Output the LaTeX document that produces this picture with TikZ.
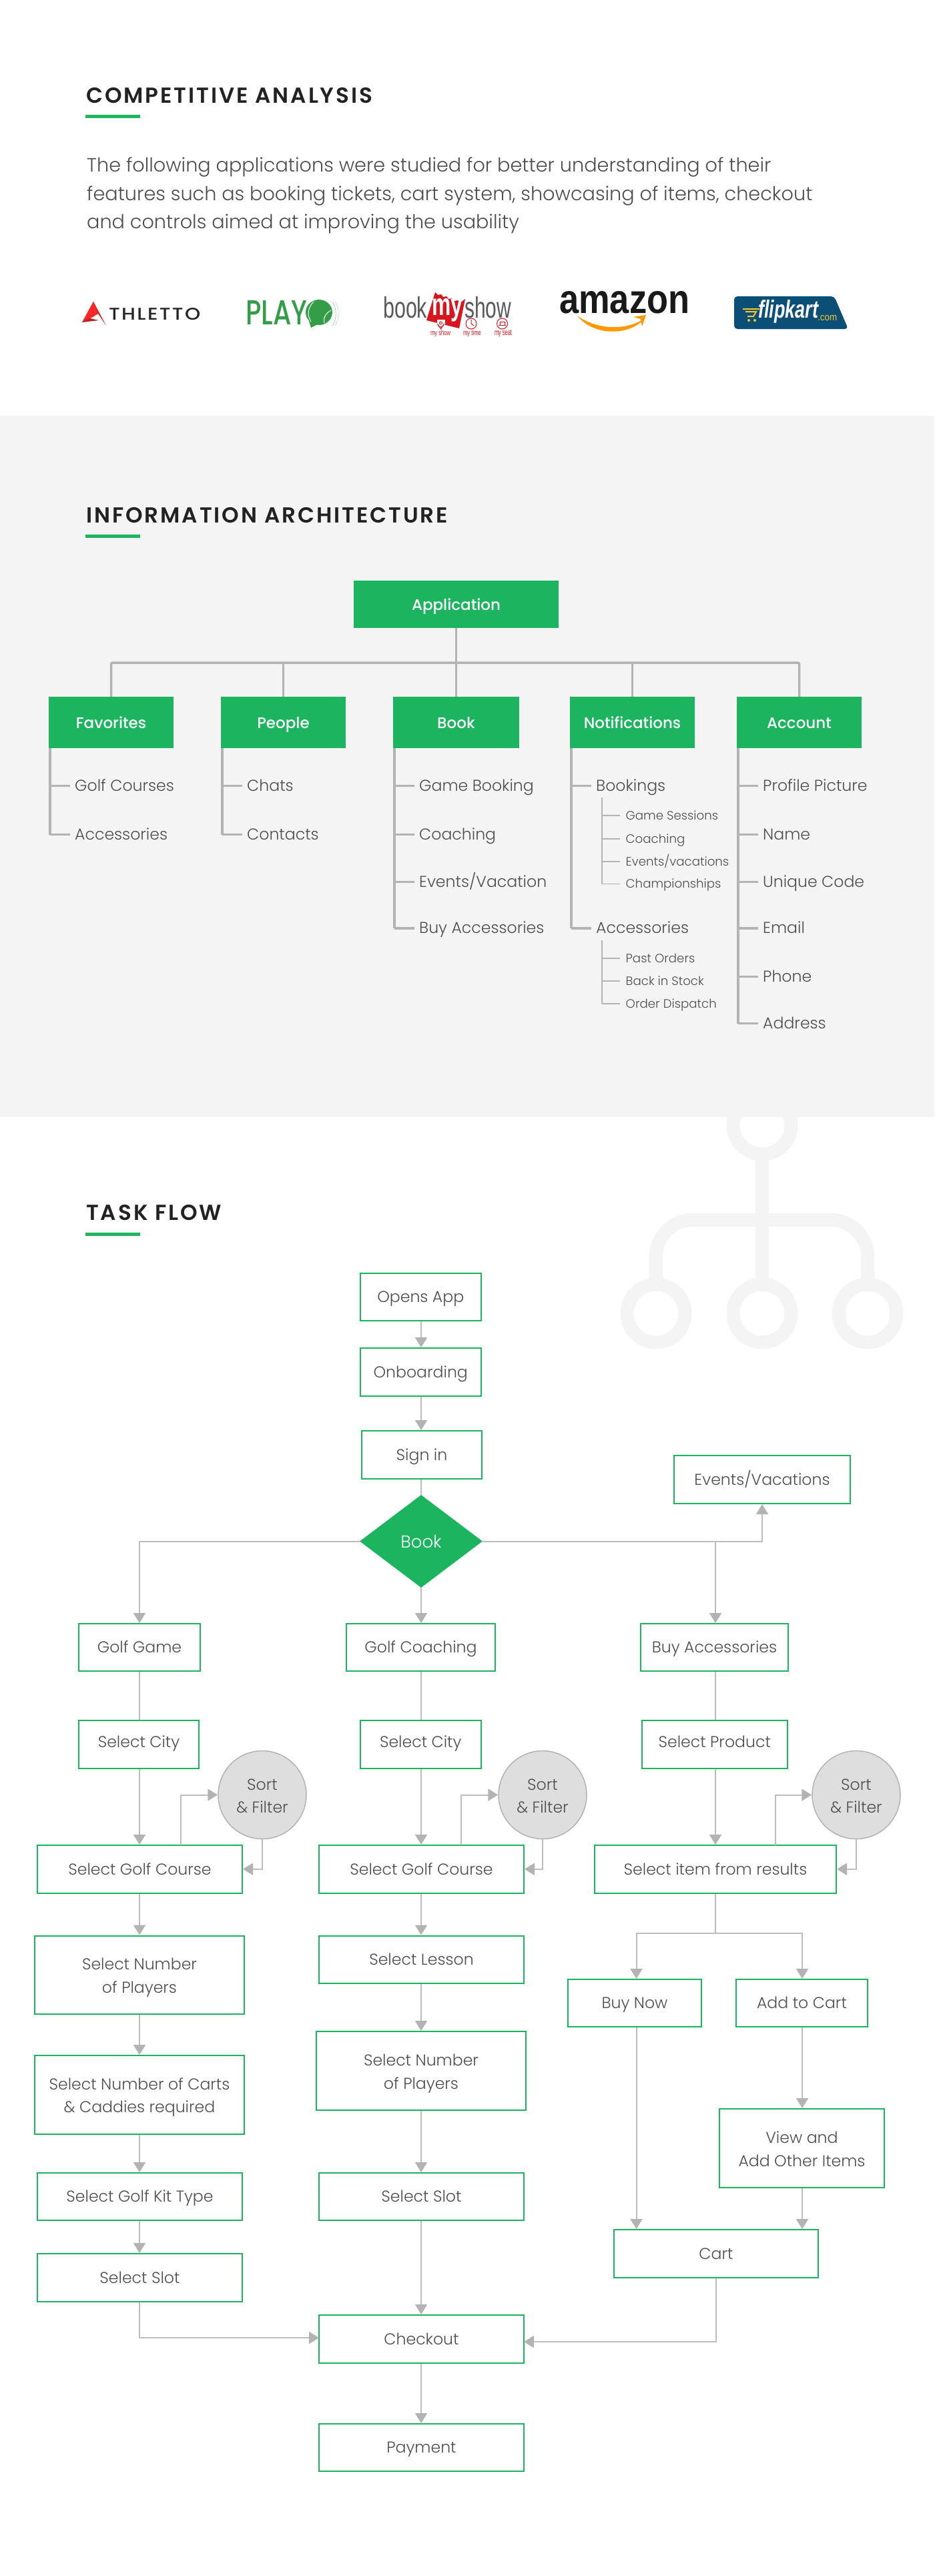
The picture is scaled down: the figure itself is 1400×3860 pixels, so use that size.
\documentclass[tikz,border=0pt]{standalone}
\usepackage{fontspec}
\usepackage{graphicx}
\usetikzlibrary{arrows.meta,shapes.geometric}
\setmainfont{Poppins Light}
\newfontfamily\medf{Poppins Medium}
\newfontfamily\semi{Poppins SemiBold}[LetterSpace=9]
\newfontfamily\libb{Liberation Sans}
\definecolor{gr}{HTML}{1DB45F}
\definecolor{txt}{HTML}{4D4D4D}
\definecolor{ink}{HTML}{222222}
\definecolor{ln}{HTML}{BDBDBD}
\definecolor{tip}{HTML}{B3B3B3}
\definecolor{ia}{HTML}{B3B3B3}
\definecolor{pale}{HTML}{F4F4F4}
\definecolor{bmsred}{HTML}{D9161E}
\definecolor{playg}{HTML}{339E47}
\definecolor{fkblue}{HTML}{0B4F77}
\definecolor{fky}{HTML}{F7C52B}
\definecolor{amz}{HTML}{FF9900}
\newcommand{\flowtop}{\rule[-8.9pt]{0pt}{34.4pt}}
\newcommand{\lift}{\rule{0pt}{28.5pt}}
\newcommand{\upr}[1]{\raisebox{3.5pt}{#1}}
\tikzset{
  heading/.style={anchor=base west,inner sep=0,text=ink,font=\semi\fontsize{32.6}{36}\selectfont},
  para/.style={anchor=base west,inner sep=0,text=txt,font=\fontsize{28.7}{34}\selectfont},
  flow/.style={draw=gr,line width=2pt,fill=white,inner sep=0,align=center,text=txt,font=\fontsize{23.6}{34.4}\selectfont,execute at begin node=\flowtop,execute at end node=\flowtop},
  iabox/.style={fill=gr,inner sep=0,text=white,font=\medf\fontsize{23}{34}\selectfont,execute at begin node=\rule[-10.2pt]{0pt}{38.2pt}},
  item/.style={anchor=base west,inner sep=0,text=txt,font=\fontsize{23.6}{27}\selectfont},
  subitem/.style={anchor=base west,inner sep=0,text=txt,font=\fontsize{18.2}{22}\selectfont},
  iatrunk/.style={draw=ia,line width=3.5pt},
  iathin/.style={draw=ia,line width=1.5pt},
  plainline/.style={draw=ln,line width=2pt},
  arrowline/.style={draw=ln,line width=2pt,-{Triangle[width=18pt,length=15pt,color=tip]}},
  sortnode/.style={circle,draw=tip,line width=1.5pt,fill=black!13,inner sep=0,minimum size=132pt,align=center,text=txt,font=\fontsize{23.6}{34.4}\selectfont,execute at begin node=\flowtop,execute at end node=\flowtop},
  decision/.style={diamond,fill=gr,inner sep=0,text=white,font=\fontsize{26}{34}\selectfont,execute at begin node=\rule[-10.2pt]{0pt}{40pt}},
  bar/.style={fill=gr},
  ghost/.style={draw=pale,line width=20pt},
  logotext/.style={inner sep=0,anchor=south west},
  tiny/.style={inner sep=0,text=bmsred}
}
\newcommand{\flowbox}[6]{\node[flow,minimum width={#4-#2},minimum height={#5-#3}] (#1) at ({(#2+#4)/2},{(#3+#5)/2}) {#6};}
\newcommand{\iablock}[6]{\node[iabox,minimum width={#4-#2},minimum height={#5-#3}] (#1) at ({(#2+#4)/2},{(#3+#5)/2}) {#6};}
\newcommand{\fit}[3]{\resizebox{#1pt}{#2pt}{#3}}
\begin{document}
\begin{tikzpicture}[x=1pt,y=-1pt]
\useasboundingbox (0,0) rectangle (1400,3860);
\fill[white] (0,0) rectangle (1400,3860);
% ghost icon behind the task flow
\draw[ghost] (1142,1686) circle (43.5);
\draw[ghost] (983,1968) circle (43.5);
\draw[ghost] (1142,1968) circle (43.5);
\draw[ghost] (1300,1968) circle (43.5);
\draw[ghost] (1142,1739) -- (1142,1915);
\draw[ghost,rounded corners=55pt] (983,1915) -- (983,1828) -- (1300,1828) -- (1300,1915);
% grey band
\fill[pale] (0,622.5) rectangle (1400,1674);

% ---------- competitive analysis
\node[heading] (h1) at (129,154) {COMPETITIVE ANALYSIS};
\fill[bar] (128,172) rectangle (210,177);
\node[para] (p1) at (130,257.5) {The following applications were studied for better understanding of their};
\node[para] (p2) at (130,300) {features such as booking tickets, cart system, showcasing of items, checkout};
\node[para] (p3) at (130,342.5) {and controls aimed at improving the usability};

% Athletto
\fill[red!70!black!85!white] (123,483) -- (140,452) -- (159,488) -- (147,470) -- (135,477) -- (148,480) -- cycle;
\fill[red!85!white] (140,452) -- (147,470) -- (135,477) -- (125,480) -- cycle;
\node[logotext,text=black!85] (l1) at (163,480) {\fit{137}{18}{\medf\addfontfeature{LetterSpace=8}THLETTO}};
% Playo
\node[logotext,text=playg] (l2) at (368,487) {\fit{92}{36}{\medf PLAY}};
\fill[playg] (478,468) ellipse (20 and 19);
\fill[playg] (462,478) -- (490,478) -- (474,487) -- (466,491) -- cycle;
\draw[white,line width=1pt] (470,452) .. controls (458,465) and (462,475) .. (466,482);
\draw[white,line width=1pt] (496,465) .. controls (486,470) and (484,480) .. (486,484);
\draw[playg!50!white,line width=.7pt] (498,452) .. controls (505,462) and (505,478) .. (498,488);
\draw[playg!30!white,line width=.7pt] (502,452) .. controls (509,462) and (509,478) .. (502,488);
% BookMyShow
\fill[bmsred] (652,438) -- (656,442) -- (661,441) -- (664,445) -- (669,444) -- (672,448) -- (677,447) -- (681,451) -- (686,450) -- (689,454) -- (697,448) -- (688,492) -- (639,480) -- cycle;
\node[logotext,text=white] (l3b) at (647,482) {\fit{46}{25}{\libb\bfseries my}};
\node[logotext,text=black!65] (l3a) at (574,477) {\fit{66}{32}{\libb book}};
\node[logotext,text=black!65] (l3c) at (696,477) {\fit{70}{32}{\libb show}};
\fill[white] (655,479) rectangle (667,490);
\draw[bmsred,line width=1pt,fill=white] (660.5,493) -- (655.5,485) arc (180:0:5) -- cycle;
\draw[bmsred,line width=1pt] (660.5,484) circle (2);
\draw[bmsred,line width=1pt,fill=white] (706,485) circle (8);
\draw[bmsred,line width=1pt] (706,479) -- (706,485) -- (710,488);
\draw[bmsred,line width=1pt,fill=white] (752.5,485) circle (8);
\draw[bmsred,line width=1pt] (747,487) -- (758,487) (749,487) -- (749,482) -- (756,482) -- (756,487);
\node[tiny] (l3d) at (660,499.5) {\fit{30}{8}{\libb my show}};
\node[tiny] (l3e) at (707.5,499.5) {\fit{27}{8}{\libb my time}};
\node[tiny] (l3f) at (754,499.5) {\fit{26}{8}{\libb my seat}};
% Amazon
\node[logotext,text=black!90] (l4) at (838,470) {\fit{195}{33}{\libb\bfseries amazon}};
\fill[amz] (865,473) .. controls (890,492) and (935,498) .. (966,477) .. controls (945,503) and (890,505) .. (865,473) -- cycle;
\fill[amz] (949,475) -- (968,472) -- (962,489) -- (960,478) -- cycle;
% Flipkart
\fill[fkblue,rounded corners=5pt] (1100,444) -- (1250,444) -- (1271,493) -- (1100,493) -- cycle;
\node[logotext,text=white] (l5) at (1136,484) {\fit{90}{27}{\libb\bfseries\itshape flipkart}};
\node[logotext,text=fky] (l5b) at (1225,481) {\fit{29}{8}{\libb .com}};
\draw[fky,line width=2pt] (1113,463) -- (1138,463) (1117,467) -- (1133,467) -- (1129,474) -- (1120,474);
\fill[fky] (1122,480) circle (2) (1131,480) circle (2);

% ---------- information architecture
\node[heading] (h2) at (129,783) {INFORMATION ARCHITECTURE};
\fill[bar] (128,800.5) rectangle (210,805.5);
\iablock{app}{530}{870}{837}{941}{Application}
\iablock{fav}{73}{1044}{260}{1121}{Favorites}
\iablock{peo}{331}{1044}{518}{1121}{People}
\iablock{boo}{589}{1044}{778}{1121}{Book}
\iablock{not}{854}{1044}{1041}{1121}{Notifications}
\iablock{acc}{1104}{1044}{1291}{1121}{Account}
\coordinate (trunk) at (683.5,993);
\draw[iatrunk] (app.south) -- (trunk);
\draw[iatrunk,rounded corners=2pt] (fav.north) -- (fav.north |- trunk) -- (acc.north |- trunk) -- (acc.north);
\draw[iatrunk] (peo.north) -- (peo.north |- trunk);
\draw[iatrunk] (boo.north) -- (boo.north |- trunk);
\draw[iatrunk] (not.north) -- (not.north |- trunk);
% lists
\newcommand{\listrow}[4]{\node[item] (#2) at ({#1+37},{#3+7.5}) {#4};\draw[iatrunk] ({#1},#3) -- ({#1+30},#3);}
\newcommand{\subrow}[4]{\node[subitem] (#2) at ({#1+35.5},{#3+6}) {#4};\draw[iathin] ({#1},#3) -- ({#1+27},#3);}
\draw[iatrunk] (75,1121) -- (75,1250.5);
\listrow{75}{a1}{1177.5}{Golf Courses}
\listrow{75}{a2}{1250.5}{Accessories}
\draw[iatrunk] (333,1121) -- (333,1250.5);
\listrow{333}{b1}{1177.5}{Chats}
\listrow{333}{b2}{1250.5}{Contacts}
\draw[iatrunk] (591,1121) -- (591,1391);
\listrow{591}{c1}{1177.5}{Game Booking}
\listrow{591}{c2}{1250.5}{Coaching}
\listrow{591}{c3}{1321.5}{Events/Vacation}
\listrow{591}{c4}{1391}{Buy Accessories}
\draw[iatrunk] (856,1121) -- (856,1391);
\listrow{856}{d1}{1177.5}{Bookings}
\listrow{856}{d2}{1391}{Accessories}
\draw[iathin] (902,1195) -- (902,1324.5);
\subrow{902}{e1}{1222}{Game Sessions}
\subrow{902}{e2}{1257}{Coaching}
\subrow{902}{e3}{1291}{Events/vacations}
\subrow{902}{e4}{1324.5}{Championships}
\draw[iathin] (902,1409) -- (902,1504);
\subrow{902}{f1}{1436}{Past Orders}
\subrow{902}{f2}{1470}{Back in Stock}
\subrow{902}{f3}{1504}{Order Dispatch}
\draw[iatrunk] (1106,1121) -- (1106,1533.5);
\listrow{1106}{g1}{1177.5}{Profile Picture}
\listrow{1106}{g2}{1250.5}{Name}
\listrow{1106}{g3}{1321.5}{Unique Code}
\listrow{1106}{g4}{1391}{Email}
\listrow{1106}{g5}{1463.5}{Phone}
\listrow{1106}{g6}{1533.5}{Address}

% ---------- task flow
\node[heading] (h3) at (129,1828) {TASK FLOW};
\fill[bar] (128,1846.5) rectangle (210,1851.5);

\flowbox{open}{540}{1908}{720.5}{1979}{Opens App}
\flowbox{onb}{540}{2020}{720.5}{2091.5}{Onboarding}
\flowbox{sign}{542}{2144}{722}{2216}{Sign in}
\flowbox{ev}{1010}{2181}{1274}{2253}{Events/Vacations}
\node[decision,minimum width=184pt,minimum height=139pt] (bk) at (631,2309.5) {Book};

\flowbox{gg}{118}{2433}{300}{2504}{Golf Game}
\flowbox{gc}{519}{2433}{742}{2504}{Golf Coaching}
\flowbox{ba}{960}{2433}{1181}{2504}{Buy Accessories}
\flowbox{c1}{118}{2578}{298}{2650}{\upr{Select City}}
\flowbox{c2}{540}{2578}{720.5}{2650}{\upr{Select City}}
\flowbox{sp}{962}{2578}{1179.5}{2650}{\upr{Select Product}}
\node[sortnode] (sf1) at (393,2689.5) {\lift Sort\\\& Filter};
\node[sortnode] (sf2) at (813,2689.5) {\lift Sort\\\& Filter};
\node[sortnode] (sf3) at (1283,2689.5) {\lift Sort\\\& Filter};
\flowbox{s1}{56}{2765}{363}{2836.5}{Select Golf Course}
\flowbox{s2}{478}{2765}{785}{2836.5}{Select Golf Course}
\flowbox{s3}{891}{2765}{1253}{2836.5}{Select item from results}
\flowbox{n1}{52}{2900.5}{366}{3018}{\lift Select Number\\of Players}
\flowbox{ls}{478}{2900.5}{785}{2971.5}{Select Lesson}
\flowbox{n2}{474}{3044}{788}{3162}{\lift Select Number\\of Players}
\flowbox{bn}{851}{2966}{1051}{3037}{Buy Now}
\flowbox{ac}{1103}{2966}{1300}{3037}{Add to Cart}
\flowbox{nc}{52}{3080}{366}{3197.5}{\lift Select Number of Carts\\\& Caddies required}
\flowbox{kt}{56}{3256}{363}{3327}{Select Golf Kit Type}
\flowbox{t2}{478}{3256}{785}{3327}{Select Slot}
\flowbox{t1}{56}{3377}{363}{3448.5}{Select Slot}
\flowbox{va}{1078}{3160}{1325}{3278}{\lift View and\\Add Other Items}
\flowbox{cart}{920}{3341}{1226}{3413}{Cart}
\flowbox{co}{478}{3469}{785}{3541}{Checkout}
\flowbox{pay}{478}{3632}{785}{3703}{Payment}

% helper coordinates on the column lines
\coordinate (colA) at (209,0);
\coordinate (colB) at (631,0);
\coordinate (colC) at (1072,0);
\coordinate (colD) at (953.5,0);
\coordinate (colE) at (1202,0);
\coordinate (split) at (1072,2897);
\coordinate (cw) at (478,3503);
\coordinate (ce) at (785,3509);
\coordinate (up1) at (271,2765);
\coordinate (up2) at (691,2765);
\coordinate (up3) at (1162,2765);

\draw[arrowline] (colB |- open.south) -- (colB |- onb.north);
\draw[arrowline] (colB |- onb.south) -- (colB |- sign.north);
\draw[plainline] (colB |- sign.south) -- (bk.north);
\draw[arrowline] (bk.west) -| (colA |- gg.north);
\draw[arrowline] (bk.south) -- (colB |- gc.north);
\draw[arrowline] (bk.east) -| (ev.south);
\draw[arrowline] (colC |- bk.east) -- (colC |- ba.north);

\draw[plainline] (colA |- gg.south) -- (colA |- c1.north);
\draw[plainline] (colB |- gc.south) -- (colB |- c2.north);
\draw[plainline] (colC |- ba.south) -- (colC |- sp.north);
\draw[arrowline] (colA |- c1.south) -- (colA |- s1.north);
\draw[arrowline] (colB |- c2.south) -- (colB |- s2.north);
\draw[arrowline] (colC |- sp.south) -- (colC |- s3.north);

\draw[arrowline] (up1) |- (sf1.west);
\draw[arrowline] (up2) |- (sf2.west);
\draw[arrowline] (up3) |- (sf3.west);
\draw[arrowline] (sf1.south) |- (s1.east);
\draw[arrowline] (sf2.south) |- (s2.east);
\draw[arrowline] (sf3.south) |- (s3.east);

\draw[arrowline] (colA |- s1.south) -- (colA |- n1.north);
\draw[arrowline] (colA |- n1.south) -- (colA |- nc.north);
\draw[arrowline] (colA |- nc.south) -- (colA |- kt.north);
\draw[arrowline] (colA |- kt.south) -- (colA |- t1.north);
\draw[arrowline] (colA |- t1.south) |- (cw);

\draw[arrowline] (colB |- s2.south) -- (colB |- ls.north);
\draw[arrowline] (colB |- ls.south) -- (colB |- n2.north);
\draw[arrowline] (colB |- n2.south) -- (colB |- t2.north);
\draw[arrowline] (colB |- t2.south) -- (colB |- co.north);
\draw[arrowline] (colB |- co.south) -- (colB |- pay.north);

\draw[plainline] (colC |- s3.south) -- (split);
\draw[arrowline] (split) -| (colD |- bn.north);
\draw[arrowline] (split) -| (colE |- ac.north);
\draw[arrowline] (colD |- bn.south) -- (colD |- cart.north);
\draw[arrowline] (colE |- ac.south) -- (colE |- va.north);
\draw[arrowline] (colE |- va.south) -- (colE |- cart.north);
\draw[arrowline] (cart.south) |- (ce);
\end{tikzpicture}
\end{document}
